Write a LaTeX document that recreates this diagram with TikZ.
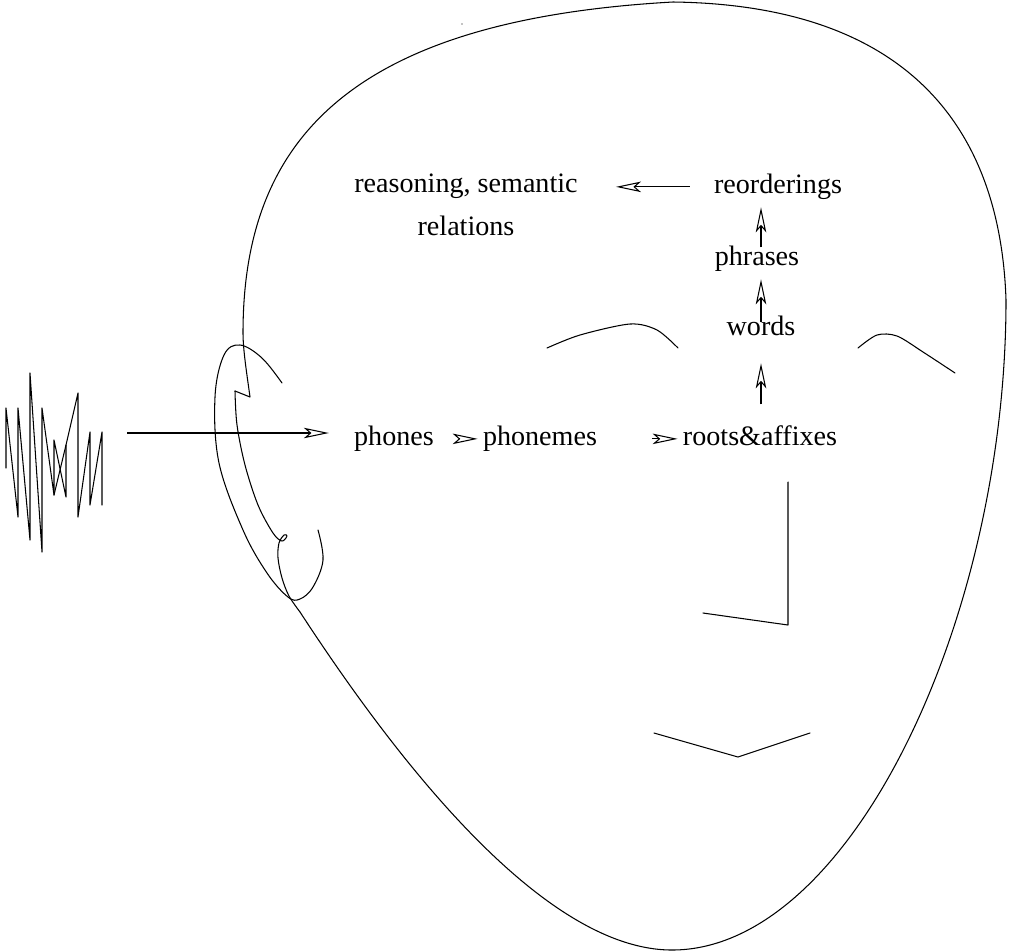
\documentclass[tikz,border=0pt]{standalone}
\usepackage{fontspec}
\setmainfont{Liberation Serif}
\usetikzlibrary{arrows.meta, positioning}

\tikzset{
  lbl/.style={inner sep=0pt, text height=0.7em, text depth=0pt, anchor=base,
    font=\fontsize{16}{24.4}\selectfont},
  flow/.style={-{Stealth[open, length=0.5cm, width=0.21cm, inset=0.12cm]}, line width=0.6pt},
  stroke/.style={line width=0.6pt, line join=round, line cap=round}
}

\begin{document}
\begin{tikzpicture}[x=0.02cm, y=-0.02cm]
  \useasboundingbox (0,0) rectangle (1013,951);

  % Head outline, from the notch above the ear round to the chin
  \draw[stroke] (235,391) -- (250,397) .. controls (247,375) and (243,350) .. (243,333)
    .. controls (243,140) and (350,20) .. (673,2)
    .. controls (900,5) and (1000,120) .. (1006,300)
    .. controls (1006,620) and (850,950) .. (672,950)
    .. controls (540,950) and (390,750) .. (300,612);
  % inner rim of the ear, with its little curl
  \draw[stroke] plot[smooth, tension=0.55] coordinates {
    (300,612) (289,596) (282,578) (278,558) (279,543) (284,535) (287,536)
    (282,541) (273,533) (258,505) (245,465) (237,425) (235,391)};
  \fill (462,24) circle (0.7);

  % Ear
  \draw[stroke] plot[smooth, tension=0.6] coordinates {
    (282,383) (262,358) (240,345) (224,355) (215,397) (219,463) (243,530)
    (267,573) (288,597) (300,599) (313,587) (323,560) (318,530)};

  % Brows, nose and mouth
  \draw[stroke] plot[smooth] coordinates {(547,348) (580,335) (630,324) (657,330) (678,348)};
  \draw[stroke] plot[smooth] coordinates {(858,348) (877,335) (897,336) (923,352) (955,373)};
  \draw[stroke] (788,482) -- (788,625) -- (703,613);
  \draw[stroke] (654,733) -- (738,757) -- (810,733);

  % Sound wave
  \draw[stroke] (6,468) -- (6,408) -- (18,517) -- (18,408) -- (30,540) -- (30,373)
    -- (42,552) -- (42,408) -- (54,495) -- (54,440) -- (66,497) -- (66,445)
    -- (78,393) -- (78,517) -- (90,432) -- (90,505) -- (102,432) -- (102,505);
  \draw[stroke] (54,495) -- (66,445);
  \coordinate (wave) at (127,433);

  % Labels
  \node[lbl] (phones) at (394,445) {phones};
  \node[lbl] (phonemes) at (540,445) {phonemes};
  \node[lbl] (roots) at (760,445) {roots\&affixes};
  \node[lbl] (words) at (761,335) {words};
  \node[lbl] (phrases) at (757,265) {phrases};
  \node[lbl] (reorder) at (778,193) {reorderings};
  \node[inner sep=0pt, anchor=base, align=center, font=\fontsize{16}{24.4}\selectfont]
    (reason) at (466,235) {reasoning, semantic\\relations};

  % Arrows
  \draw[flow, shorten >=0.5cm] (wave) -- (wave -| phones.west);
  \draw[flow, shorten <=0.5cm, shorten >=0.1cm] (phones.east) -- (phonemes.west);
  \draw[flow, shorten <=1.1cm, shorten >=0.1cm] (phonemes.east) -- (roots.west);
  \draw[flow, shorten <=0.56cm, shorten >=0.56cm] (words.south |- roots.north) -- (words.south);
  \draw[flow, shorten >=0.28cm] (words.north) -- (words.north |- phrases.south);
  \draw[flow, shorten <=0.1cm, shorten >=0.28cm] (words.north |- phrases.north) -- (words.north |- reorder.south);
  \draw[flow, shorten <=0.48cm, shorten >=0.76cm] (reorder.west) -- (reorder.west -| reason.east);
\end{tikzpicture}
\end{document}
